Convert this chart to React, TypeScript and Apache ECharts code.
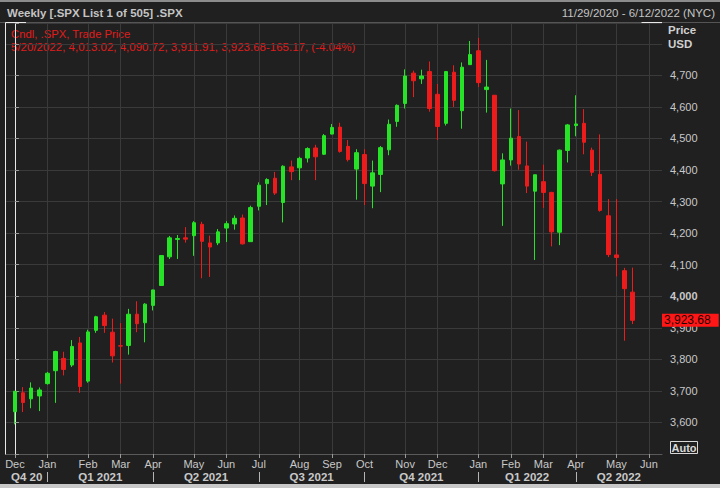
import React, { useEffect, useRef } from "react";
import * as echarts from "echarts";

// Weekly candles (week ending dates), index = position on the x axis
const weekEnding = [
  "12/4/2020", "12/11/2020", "12/18/2020", "12/24/2020", "12/31/2020",
  "1/8/2021", "1/15/2021", "1/22/2021", "1/29/2021", "2/5/2021", "2/12/2021", "2/19/2021", "2/26/2021",
  "3/5/2021", "3/12/2021", "3/19/2021", "3/26/2021", "4/1/2021", "4/9/2021", "4/16/2021", "4/23/2021",
  "4/30/2021", "5/7/2021", "5/14/2021", "5/21/2021", "5/28/2021", "6/4/2021", "6/11/2021", "6/18/2021",
  "6/25/2021", "7/2/2021", "7/9/2021", "7/16/2021", "7/23/2021", "7/30/2021", "8/6/2021", "8/13/2021",
  "8/20/2021", "8/27/2021", "9/3/2021", "9/10/2021", "9/17/2021", "9/24/2021", "10/1/2021", "10/8/2021",
  "10/15/2021", "10/22/2021", "10/29/2021", "11/5/2021", "11/12/2021", "11/19/2021", "11/26/2021",
  "12/3/2021", "12/10/2021", "12/17/2021", "12/23/2021", "12/31/2021",
  "1/7/2022", "1/14/2022", "1/21/2022", "1/28/2022", "2/4/2022", "2/11/2022", "2/18/2022", "2/25/2022",
  "3/4/2022", "3/11/2022", "3/18/2022", "3/25/2022", "4/1/2022", "4/8/2022", "4/14/2022", "4/22/2022",
  "4/29/2022", "5/6/2022", "5/13/2022", "5/20/2022",
];

const opens = [
  3634, 3694, 3675, 3684, 3723, 3764, 3803, 3782, 3852, 3731,
  3892, 3940, 3886, 3843, 3844, 3943, 3916, 3971, 4034, 4125,
  4180, 4185, 4192, 4228, 4169, 4169, 4216, 4229, 4248, 4173,
  4285, 4357, 4374, 4297, 4410, 4407, 4438, 4470, 4450, 4514,
  4536, 4475, 4403, 4449, 4349, 4386, 4464, 4554, 4611, 4707,
  4689, 4712, 4640, 4548, 4710, 4588, 4734, 4778, 4655, 4637,
  4356, 4432, 4506, 4413, 4333, 4363, 4329, 4203, 4462, 4541,
  4548, 4463, 4386, 4255, 4131, 4081, 4013.02,
];
const closes = [
  3699, 3663, 3709, 3703, 3756, 3825, 3768, 3841, 3714, 3887,
  3935, 3907, 3811, 3842, 3943, 3913, 3975, 4020, 4129, 4185,
  4183, 4181, 4233, 4174, 4156, 4204, 4230, 4247, 4166, 4281,
  4352, 4370, 4327, 4412, 4395, 4437, 4468, 4442, 4509, 4535,
  4459, 4433, 4455, 4357, 4391, 4471, 4545, 4605, 4698, 4683,
  4698, 4595, 4538, 4712, 4621, 4726, 4766, 4677, 4663, 4398,
  4432, 4501, 4419, 4349, 4385, 4329, 4204, 4463, 4543, 4546,
  4488, 4393, 4272, 4132, 4123, 4024, 3923.68,
];
const lows = [
  3594, 3633, 3645, 3636, 3720, 3662, 3749, 3776, 3694, 3726,
  3884, 3884, 3790, 3723, 3815, 3886, 3854, 3955, 4034, 4118,
  4118, 4170, 4128, 4057, 4061, 4162, 4172, 4211, 4164, 4173,
  4272, 4289, 4321, 4234, 4368, 4368, 4424, 4368, 4448, 4513,
  4455, 4427, 4306, 4289, 4279, 4330, 4447, 4537, 4595, 4631,
  4673, 4585, 4495, 4541, 4600, 4531, 4734, 4663, 4582, 4395,
  4223, 4414, 4401, 4327, 4115, 4280, 4158, 4162, 4424, 4507,
  4450, 4381, 4268, 4124, 4063, 3859, 3911.91,
];
const highs = [
  3699, 3712, 3727, 3711, 3760, 3827, 3824, 3861, 3871, 3894,
  3938, 3950, 3929, 3915, 3960, 3984, 3978, 4021, 4130, 4191,
  4194, 4219, 4238, 4236, 4192, 4213, 4238, 4256, 4259, 4287,
  4361, 4374, 4394, 4415, 4430, 4442, 4472, 4480, 4514, 4546,
  4550, 4495, 4466, 4466, 4430, 4476, 4560, 4608, 4719, 4715,
  4718, 4744, 4673, 4714, 4732, 4741, 4809, 4819, 4749, 4637,
  4453, 4595, 4590, 4490, 4385, 4417, 4331, 4465, 4546, 4637,
  4593, 4471, 4513, 4308, 4308, 4090, 4090.72,
];

// Month ticks: index of the week containing the 1st of each month
const monthTickIdx = [0, 4, 9, 13, 17, 22, 26, 30, 35, 39, 43, 48, 52, 57, 61, 65, 69, 74, 78];
const monthNames = ["Dec", "Jan", "Feb", "Mar", "Apr", "May", "Jun", "Jul", "Aug", "Sep", "Oct", "Nov", "Dec", "Jan", "Feb", "Mar", "Apr", "May", "Jun"];
const quarterSepIdx = [4, 17, 30, 43, 57, 69];
const quarterLabelIdx = [1.45, 10.5, 23.5, 36.5, 50, 63, 74.3];
const quarterNames = ["Q4 20", "Q1 2021", "Q2 2021", "Q3 2021", "Q4 2021", "Q1 2022", "Q2 2022"];
const priceLabels = [3600, 3700, 3800, 3900, 4000, 4100, 4200, 4300, 4400, 4500, 4600, 4700];
const lastPrice = 3923.68;

const FONT = '"Liberation Sans", Arial, sans-serif';
const UP = "#27e327";
const DOWN = "#ec1c1c";
const TXT = "#c8c8c8";
const GRID = "#3a3a3a";

function fmt(n: number, d = 0) {
  return n.toLocaleString("en-US", { minimumFractionDigits: d, maximumFractionDigits: d });
}

export default function App() {
  const ref = useRef<HTMLDivElement>(null);
  useEffect(() => {
    document.body.style.margin = "0";
    const chart = echarts.init(ref.current!, null, { renderer: "svg" });
    const data = weekEnding.map((_, i) => [i, opens[i], closes[i], lows[i], highs[i]]);
    const gLeft = 6, gRight = 662, gTop = 23, gBottom = 454;
    const option: any = {
      animation: false,
      backgroundColor: "#202020",
      textStyle: { fontFamily: FONT },
      grid: { left: gLeft, right: 720 - gRight, top: gTop, bottom: 488 - gBottom },
      xAxis: [
        {
          type: "value",
          min: -1.1,
          max: 79.6,
          position: "bottom",
          axisLine: { show: true, lineStyle: { color: "#5a5a5a" } },
          axisTick: { show: true, customValues: monthTickIdx, length: 4, lineStyle: { color: "#9a9a9a" } },
          axisLabel: {
            customValues: monthTickIdx,
            margin: 4,
            color: TXT,
            fontSize: 11,
            fontFamily: FONT,
            formatter: (v: number) => {
              const k = monthTickIdx.indexOf(Math.round(v));
              return k >= 0 ? monthNames[k] : "";
            },
          },
          splitLine: { show: true, lineStyle: { color: GRID, width: 1 } },
        },
        {
          type: "value",
          min: -1.1,
          max: 79.6,
          position: "bottom",
          offset: 18,
          axisLine: { show: false },
          axisTick: { show: true, customValues: quarterSepIdx, length: 10, lineStyle: { color: "#b4b4b4" } },
          axisLabel: {
            customValues: quarterLabelIdx,
            margin: -1,
            color: TXT,
            fontSize: 11.5,
            fontWeight: "bold",
            fontFamily: FONT,
            formatter: (v: number) => {
              const k = quarterLabelIdx.findIndex((q) => Math.abs(q - v) < 1e-6);
              return k >= 0 ? quarterNames[k] : "";
            },
          },
          splitLine: { show: false },
        },
      ],
      yAxis: {
        type: "value",
        position: "right",
        min: 3500,
        max: 4866,
        interval: 100,
        axisLine: { show: true, lineStyle: { color: "#e8e8e8", width: 1 } },
        axisTick: { show: true, length: 4, lineStyle: { color: "#9a9a9a" } },
        axisLabel: {
          margin: 8,
          color: TXT,
          fontSize: 11,
          fontFamily: FONT,
          formatter: (v: number) => {
            if (priceLabels.indexOf(v) < 0) return "";
            return v % 1000 === 0 ? "{b|" + fmt(v) + "}" : fmt(v);
          },
          rich: { b: { fontWeight: "bold", color: TXT, fontSize: 11, fontFamily: FONT } },
        },
        splitLine: { show: true, lineStyle: { color: GRID, width: 1 } },
      },
      series: [
        {
          type: "candlestick",
          xAxisIndex: 0,
          data,
          encode: { x: 0, y: [1, 2, 3, 4] },
          barWidth: 4,
          clip: false,
          itemStyle: {
            color: UP,
            color0: DOWN,
            borderColor: UP,
            borderColor0: DOWN,
            borderWidth: 1,
          },
          markLine: {
            silent: true,
            symbol: "none",
            data: [{ yAxis: lastPrice }],
            lineStyle: { color: "rgba(0,0,0,0)", width: 1 },
            label: {
              show: true,
              position: "end",
              distance: 0,
              formatter: () => fmt(lastPrice, 2),
              backgroundColor: "#ff1616",
              color: "#1e0000",
              opacity: 1,
              fontSize: 12,
              fontFamily: FONT,
              padding: [1, 8, 0, 2],
            },
          },
        },
      ],
      graphic: [
        { type: "rect", shape: { x: 0, y: 0, width: 720, height: 2 }, style: { fill: "#8c8c8c" } },
        {
          type: "text", x: 7, y: 13,
          style: { text: "Weekly [.SPX List 1 of 505] .SPX", fill: "#c4c4c4", font: `bold 11.5px ${FONT}`, align: "left", verticalAlign: "middle", textAlign: "left", textVerticalAlign: "middle" },
        },
        {
          type: "text", x: 715, y: 13,
          style: { text: "11/29/2020 - 6/12/2022 (NYC)", fill: "#c4c4c4", font: `11.5px ${FONT}`, align: "right", verticalAlign: "middle", textAlign: "right", textVerticalAlign: "middle" },
        },
        { type: "line", shape: { x1: 0, y1: 22.5, x2: 720, y2: 22.5 }, style: { stroke: "#555555", lineWidth: 1 } },
        { type: "line", shape: { x1: 5.5, y1: 22.5, x2: 5.5, y2: 454.5 }, style: { stroke: "#e8e8e8", lineWidth: 1 } },
        { type: "line", shape: { x1: 5.5, y1: 22.5, x2: 26, y2: 22.5 }, style: { stroke: "#e8e8e8", lineWidth: 1 } },
        { type: "line", shape: { x1: 5.5, y1: 454.5, x2: 26, y2: 454.5 }, style: { stroke: "#e8e8e8", lineWidth: 1 } },
        { type: "line", shape: { x1: 641.5, y1: 22.5, x2: 662, y2: 22.5 }, style: { stroke: "#e8e8e8", lineWidth: 1 } },
        { type: "line", shape: { x1: 641.5, y1: 454.5, x2: 662, y2: 454.5 }, style: { stroke: "#e8e8e8", lineWidth: 1 } },
        {
          type: "text", x: 11, y: 33.5,
          style: { text: "Cndl, .SPX, Trade Price", fill: "#e01c1c", font: `11.3px ${FONT}`, align: "left", verticalAlign: "middle", textAlign: "left", textVerticalAlign: "middle" },
        },
        {
          type: "text", x: 11, y: 46.5,
          style: {
            text: "5/20/2022, 4,013.02, 4,090.72, 3,911.91, 3,923.68-165.17, (-4.04%)",
            fill: "#e01c1c", font: `11.5px ${FONT}`, align: "left", verticalAlign: "middle", textAlign: "left", textVerticalAlign: "middle",
          },
        },
        {
          type: "text", x: 668, y: 29.5,
          style: { text: "Price", fill: "#d0d0d0", font: `bold 11.5px ${FONT}`, align: "left", verticalAlign: "middle", textAlign: "left", textVerticalAlign: "middle" },
        },
        {
          type: "text", x: 668, y: 43.5,
          style: { text: "USD", fill: "#d0d0d0", font: `bold 11.5px ${FONT}`, align: "left", verticalAlign: "middle", textAlign: "left", textVerticalAlign: "middle" },
        },
        { type: "rect", shape: { x: 670.5, y: 441.5, width: 27, height: 12 }, style: { fill: "none", stroke: "#d8d8d8", lineWidth: 1 } },
        {
          type: "text", x: 684, y: 447.8,
          style: { text: "Auto", fill: "#d8d8d8", font: `bold 11px ${FONT}`, align: "center", verticalAlign: "middle", textAlign: "center", textVerticalAlign: "middle" },
        },
        { type: "rect", shape: { x: 0, y: 484, width: 720, height: 4 }, style: { fill: "#c8c8c8" } },
      ],
    };
    chart.setOption(option);
    return () => chart.dispose();
  }, []);
  return <div ref={ref} style={{ width: 720, height: 488 }} />;
}
